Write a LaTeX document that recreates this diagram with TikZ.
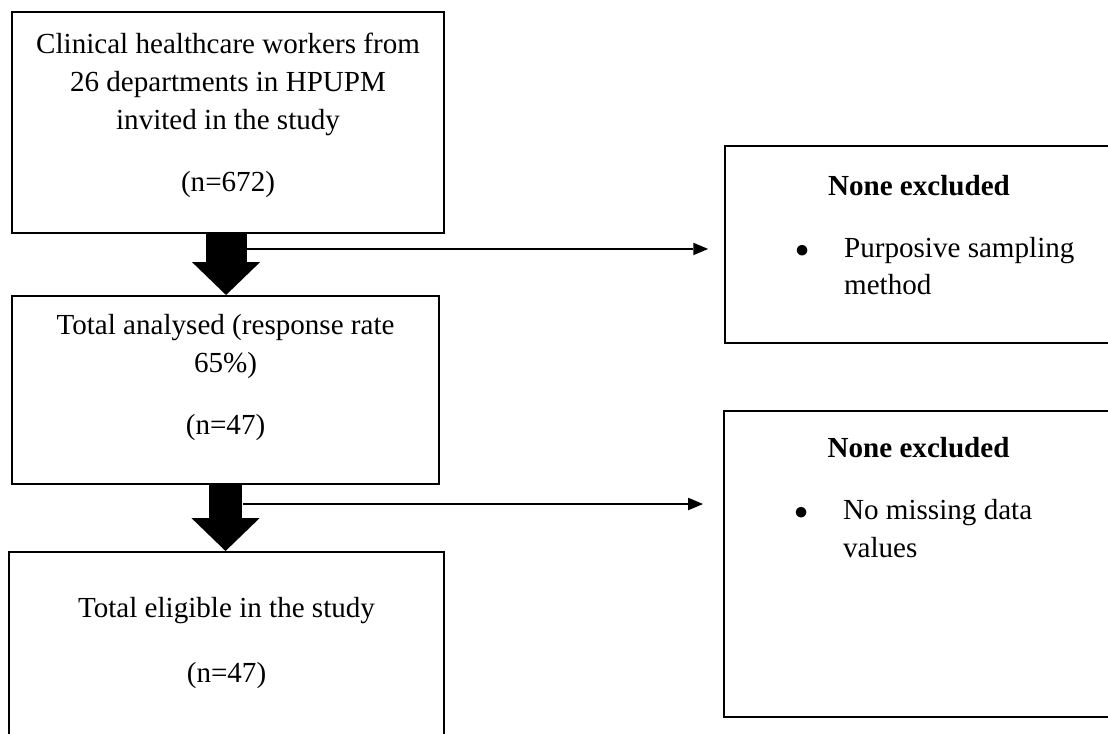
\documentclass[tikz,border=0pt]{standalone}
\usepackage{fontspec}
\setmainfont{Liberation Serif}
\usetikzlibrary{calc,positioning,arrows.meta}

\begin{document}
\begin{tikzpicture}[
    x=0.44pt, y=-0.44pt,
    every node/.style={font=\fontsize{12.8pt}{16.7pt}\selectfont},
    box/.style={rectangle, draw=black, line width=0.9pt,
                anchor=north west, inner sep=0pt},
    txt/.style={align=center, inner sep=0pt},
    listtxt/.style={align=flush left, inner sep=0pt},
    blockarr/.style={line width=#1,
                     -{Triangle[length=14.5pt, width=30pt, line width=0pt]}},
    arr/.style={-{Triangle[length=6.5pt, width=5.5pt, line width=0pt]},
                line width=0.9pt, shorten >=7pt}
]
\useasboundingbox (0,0) rectangle (1108,733);
\clip (0,0) rectangle (1108,733);

\node[box, minimum width=190.1pt, minimum height=97.2pt]  (inv)  at (11,11)   {};
\node[box, minimum width=187.9pt, minimum height=82.7pt]  (ana)  at (11,295)  {};
\node[box, minimum width=191.4pt, minimum height=100pt]   (elig) at (8,551)   {};
\node[box, minimum width=170.7pt, minimum height=86.7pt]  (ex1)  at (724,145) {};
\node[box, minimum width=171.2pt, minimum height=134.6pt] (ex2)  at (723,410) {};

\node[txt, below=9.6pt of inv.north]  (invt)
    {Clinical healthcare workers from\\26 departments in HPUPM\\invited in the study\\[10.5pt](n=672)};
\node[txt, below=8.2pt of ana.north]  (anat)
    {Total analysed (response rate\\65\%)\\[10.5pt](n=47)};
\node[txt, below=20pt of elig.north]  (eligt)
    {Total eligible in the study\\[12pt](n=47)};
\node[listtxt, text width=170.7pt, below=13pt of ex1.north] (ex1t)
    {\makebox[\linewidth]{\textbf{None excluded}}\\[10.5pt]
     \makebox[52.4pt][l]{\hspace*{31pt}$\bullet$}Purposive sampling\\
     \hspace*{52.4pt}method};
\node[listtxt, text width=171.2pt, below=12pt of ex2.north] (ex2t)
    {\makebox[\linewidth]{\textbf{None excluded}}\\[10.5pt]
     \makebox[52.4pt][l]{\hspace*{31pt}$\bullet$}No missing data\\
     \hspace*{52.4pt}values};

\coordinate (s1) at ($(inv.south)+(19,15)$);
\coordinate (s2) at ($(ana.south)+(17.5,19)$);

\draw[blockarr=18pt]   ($(inv.south)+(-2,0)$) -- ($(inv.south |- ana.north)+(-2,0)$);
\draw[blockarr=14.5pt] (ana.south) -- (ana.south |- elig.north);
\draw[arr] (s1) -- (s1 -| ex1.west);
\draw[arr, shorten >=8.8pt] (s2) -- (s2 -| ex2.west);
\end{tikzpicture}
\end{document}
